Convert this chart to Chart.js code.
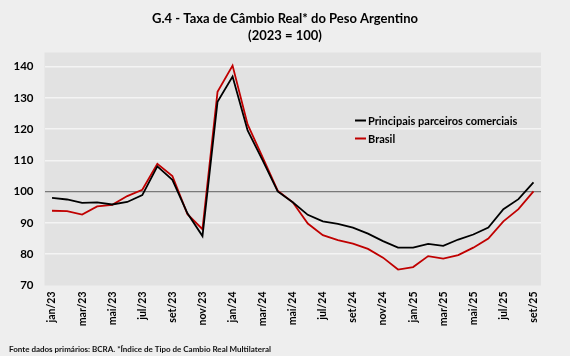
<!DOCTYPE html>
<html>
<head>
<meta charset="utf-8">
<script src="https://cdn.jsdelivr.net/npm/chart.js@4"></script>
<style>
html,body{margin:0;padding:0;background:#eeeeee;}
#wrap{width:570px;height:356px;position:relative;}
</style>
</head>
<body>
<div id="wrap"><canvas id="c" width="570" height="356"></canvas></div>
<script>
const months = ['jan/23','fev/23','mar/23','abr/23','mai/23','jun/23','jul/23','ago/23','set/23','out/23','nov/23','dez/23',
  'jan/24','fev/24','mar/24','abr/24','mai/24','jun/24','jul/24','ago/24','set/24','out/24','nov/24','dez/24',
  'jan/25','fev/25','mar/25','abr/25','mai/25','jun/25','jul/25','ago/25','set/25'];
const shownTicks = ['jan/23','mar/23','mai/23','jul/23','set/23','nov/23','jan/24','mar/24','mai/24','jul/24','set/24','nov/24','jan/25','mar/25','mai/25','jul/25','set/25'];
const parceiros = [98.0,97.5,96.4,96.6,95.9,96.7,98.9,108.1,103.8,93.1,85.8,128.7,
  136.8,119.6,110.0,100.1,96.6,92.6,90.5,89.7,88.5,86.6,84.2,82.1,
  82.1,83.3,82.7,84.7,86.3,88.5,94.4,97.6,103.0];
const brasil = [93.9,93.8,92.7,95.3,95.8,98.6,100.6,108.9,105.0,92.8,88.0,131.9,
  140.3,121.5,111.0,100.3,96.6,89.8,86.1,84.5,83.4,81.7,78.9,75.1,
  75.9,79.4,78.6,79.7,82.1,85.0,90.5,94.4,100.1];
const yTicks = [70,80,90,100,110,120,130,140];
const seriesNames = ['Principais parceiros comerciais','Brasil'];
const titleLines = ['G.4 - Taxa de Câmbio Real* do Peso Argentino','(2023 = 100)'];
const sourceNote = 'Fonte dados primários: BCRA. *Índice de Tipo de Cambio Real Multilateral';

const FONT = 'Lato, "Open Sans", sans-serif';
const OUTER_BG = '#eeeeee';
const PLOT_BG = '#e2e2e2';

const decor = {
  id: 'decor',
  beforeDraw(chart) {
    const ctx = chart.ctx, a = chart.chartArea;
    ctx.save();
    ctx.fillStyle = OUTER_BG;
    ctx.fillRect(0, 0, chart.width, chart.height);
    ctx.fillStyle = PLOT_BG;
    ctx.fillRect(a.left, a.top, a.right - a.left, a.bottom - a.top);
    ctx.restore();
  },
  afterDraw(chart) {
    const ctx = chart.ctx;
    ctx.save();
    ctx.fillStyle = '#000';
    ctx.textAlign = 'center';
    ctx.textBaseline = 'middle';
    ctx.font = 'bold 13px ' + FONT;
    ctx.fillText(titleLines[0], 285, 19);
    ctx.fillText(titleLines[1], 285, 36);
    // legend
    ctx.font = 'bold 11px ' + FONT;
    ctx.textAlign = 'left';
    const ly = [120.5, 138.5];
    chart.data.datasets.forEach((ds, i) => {
      ctx.strokeStyle = ds.borderColor;
      ctx.lineWidth = 2;
      ctx.beginPath();
      ctx.moveTo(355, ly[i]);
      ctx.lineTo(366, ly[i]);
      ctx.stroke();
      ctx.fillStyle = '#000';
      ctx.fillText(ds.label, 368, ly[i] + 0.5);
    });
    // source
    ctx.font = 'bold 8px ' + FONT;
    ctx.fillStyle = '#111';
    ctx.fillText(sourceNote, 9, 349);
    ctx.restore();
  }
};

new Chart(document.getElementById('c'), {
  type: 'line',
  data: {
    labels: months,
    datasets: [
      { label: seriesNames[0], data: parceiros, borderColor: '#000000', borderWidth: 1.8, pointRadius: 0, tension: 0, fill: false },
      { label: seriesNames[1], data: brasil, borderColor: '#c00000', borderWidth: 1.8, pointRadius: 0, tension: 0, fill: false }
    ]
  },
  options: {
    responsive: false,
    animation: false,
    devicePixelRatio: 1,
    layout: { padding: { top: 52.5, right: 29, bottom: 0, left: 0 } },
    plugins: { legend: { display: false }, title: { display: false }, tooltip: { enabled: false } },
    scales: {
      x: {
        offset: true,
        grid: { display: false, drawTicks: false },
        border: { display: false },
        afterFit(s) { s.height = 356 - 285.5 - 0; },
        ticks: {
          autoSkip: false,
          maxRotation: 90, minRotation: 90,
          padding: 6,
          color: '#000',
          font: { family: FONT, size: 10.5, weight: 'bold' },
          callback(v) { const l = months[v]; return shownTicks.includes(l) ? l : ''; }
        }
      },
      y: {
        min: 70, max: 144.5,
        afterBuildTicks(s) { s.ticks = yTicks.map(v => ({ value: v })); },
        afterFit(s) { s.width = 44.5; },
        grid: {
          drawTicks: false,
          color(c) { return c.tick && c.tick.value === 100 ? '#7a7a7a' : (c.tick && c.tick.value === 70 ? 'rgba(0,0,0,0)' : '#f4f4f4'); },
          lineWidth(c) { return c.tick && c.tick.value === 100 ? 1.2 : 1.5; }
        },
        border: { display: false },
        ticks: {
          padding: 11,
          color: '#000',
          font: { family: FONT, size: 11.5, weight: 'bold' }
        }
      }
    }
  },
  plugins: [decor]
});
</script>
</body>
</html>
